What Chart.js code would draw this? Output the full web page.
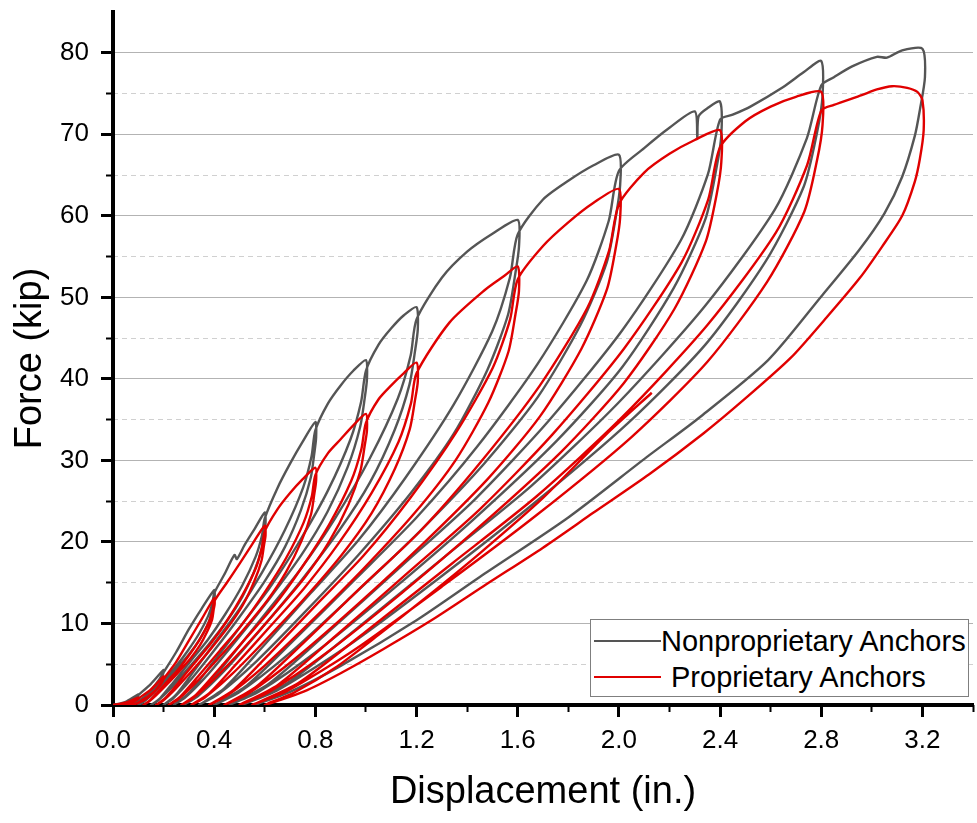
<!DOCTYPE html>
<html>
<head>
<meta charset="utf-8">
<title>Force vs Displacement</title>
<script src="https://cdn.jsdelivr.net/npm/chart.js@4.4.1/dist/chart.umd.min.js"></script>
<style>
  html, body { margin: 0; padding: 0; background: #fff; }
  #wrap { position: relative; width: 977px; height: 823px; }
  #legend {
    position: absolute; left: 590px; top: 619px; width: 377px; height: 76px;
    border: 1px solid #7f7f7f; background: #fff;
    font-family: 'Liberation Sans', Arial, sans-serif; font-size: 29px; color: #000;
  }
  .row { position: absolute; left: 0; right: 0; height: 36px; line-height: 36px; white-space: nowrap; }
  .swatch { position: absolute; left: 3px; top: 17px; width: 67px; height: 2px; }
  .label { position: absolute; top: 0; }
</style>
</head>
<body>
<div id="wrap">
  <canvas id="loopChart"></canvas>
  <div id="legend"></div>
</div>
<script>
// series names / colours
const seriesNames = ['Nonproprietary Anchors', 'Proprietary Anchors'];
const seriesColors = ['#555555', '#e00000'];

// axis ranges
const dispRange = [0, 3.4];
const forceRange = [0, 85];

const nonpropPath = [
  [0,0],[0.05,0.4],[0.1,1.3],
  [0.098,1.0],[0.08,0.55],[0.06,0.22],[0.04,0.05],[0.03,0],
  [0.05,0.1],[0.08,0.6],[0.1,1.2],[0.15,2.6],[0.2,4.3],
  [0.2,4.0],[0.19,3.2],[0.17,2.3],[0.14,1.4],[0.11,0.7],[0.08,0.2],[0.06,0],
  [0.09,0.3],[0.12,0.9],[0.15,1.8],[0.18,3.0],[0.2,4.0],
  [0.25,6.5],[0.3,9.3],[0.35,11.8],[0.4,14.1],
  [0.402,13.3],[0.398,12.5],[0.391,11.35],[0.372,9.7],[0.34,7.9],[0.30,6.2],[0.25,4.4],[0.201,2.75],[0.154,1.27],[0.118,0.31],[0.10,0],
  [0.124,0.49],[0.16,1.69],[0.205,3.24],[0.25,4.8],[0.295,6.63],[0.34,8.74],[0.376,10.9],[0.3925,12.4],[0.40,13.7],
  [0.44,16.0],[0.48,18.4],[0.49,17.9],[0.52,19.6],[0.56,21.6],[0.6,23.6],
  [0.603,22.3],[0.597,21.0],[0.587,19.0],[0.557,16.3],[0.51,13.2],[0.45,10.3],[0.375,7.3],[0.30,4.6],[0.231,2.12],[0.177,0.52],[0.15,0],
  [0.186,0.83],[0.24,2.83],[0.308,5.43],[0.375,8.0],[0.443,11.1],[0.51,14.6],[0.564,18.2],[0.589,20.8],[0.60,22.9],
  [0.65,26.6],[0.7,29.6],[0.75,32.3],[0.8,34.7],
  [0.803,32.8],[0.796,30.9],[0.782,27.9],[0.743,23.9],[0.68,19.4],[0.60,15.2],[0.50,10.8],[0.402,6.77],[0.308,3.12],[0.236,0.76],[0.20,0],
  [0.248,1.21],[0.32,4.16],[0.41,7.98],[0.50,11.8],[0.59,16.3],[0.68,21.5],[0.752,26.7],[0.785,30.5],[0.80,33.7],
  [0.85,37.0],[0.9,39.2],[0.95,41.0],[1.0,42.3],
  [1.004,40.0],[0.995,37.6],[0.977,34.1],[0.928,29.2],[0.848,23.7],[0.747,18.5],[0.62,13.1],[0.496,8.25],[0.377,3.81],[0.286,0.93],[0.24,0],
  [0.301,1.48],[0.392,5.08],[0.506,9.73],[0.62,14.4],[0.734,19.9],[0.848,26.2],[0.939,32.6],[0.981,37.2],[1.0,41.0],
  [1.05,44.2],[1.1,46.2],[1.15,47.8],[1.2,48.8],
  [1.205,46.1],[1.194,43.4],[1.172,39.3],[1.113,33.7],[1.016,27.3],[0.894,21.4],[0.74,15.1],[0.59,9.52],[0.446,4.39],[0.335,1.07],[0.28,0],
  [0.354,1.71],[0.464,5.86],[0.602,11.2],[0.74,16.6],[0.878,22.9],[1.016,30.3],[1.126,37.6],[1.177,42.9],[1.2,47.3],
  [1.3,52.4],[1.4,55.6],[1.5,57.8],[1.6,59.5],
  [1.605,56.2],[1.591,53.0],[1.562,47.9],[1.48,41.1],[1.348,33.3],[1.18,26.1],[0.97,18.4],[0.765,11.6],[0.567,5.36],[0.416,1.31],[0.34,0],
  [0.441,2.08],[0.592,7.14],[0.781,13.7],[0.97,20.2],[1.159,28.0],[1.348,36.9],[1.499,45.8],[1.569,52.4],[1.6,57.7],
  [1.7,62.0],[1.8,64.3],[1.9,66.2],[2.0,67.5],
  [2.005,63.8],[1.989,60.1],[1.952,54.3],[1.848,46.6],[1.68,37.8],[1.467,29.6],[1.20,20.9],[0.939,13.2],[0.688,6.08],[0.496,1.49],[0.40,0],
  [0.528,2.36],[0.72,8.1],[0.96,15.5],[1.20,23.0],[1.44,31.7],[1.68,41.9],[1.872,52.0],[1.96,59.4],[2.0,65.5],
  [2.1,68.3],[2.2,70.8],[2.3,72.8],[2.31,69.6],[2.315,72.2],[2.35,73.2],[2.4,74.0],
  [2.405,69.9],[2.386,65.9],[2.342,59.6],[2.216,51.1],[2.012,41.4],[1.754,32.4],[1.43,22.9],[1.114,14.4],[0.809,6.66],[0.576,1.63],[0.46,0],
  [0.615,2.59],[0.848,8.88],[1.139,17.0],[1.43,25.2],[1.721,34.8],[2.012,45.9],[2.245,57.0],[2.352,65.1],[2.4,71.8],
  [2.45,72.4],[2.52,73.4],[2.65,75.8],[2.73,77.6],[2.8,79.0],
  [2.805,74.7],[2.784,70.3],[2.731,63.6],[2.582,54.5],[2.342,44.2],[2.037,34.6],[1.655,24.5],[1.282,15.4],[0.922,7.11],[0.647,1.74],[0.51,0],
  [0.693,2.77],[0.968,9.48],[1.312,18.2],[1.655,26.9],[1.999,37.1],[2.342,49.0],[2.617,60.8],[2.743,69.5],[2.8,76.0],
  [2.85,77.0],[2.92,78.3],[3.02,79.5],[3.06,79.4],[3.12,80.3],[3.2,80.5],
  [3.21,77.0],[3.19,73.0],[3.17,69.8],[3.12,64.8],[3.05,60.3],[2.95,55.8],[2.80,50.1],[2.59,42.3],[2.32,35.3],[2.11,30.4],[1.80,23.0],[1.45,15.7],[1.20,10.4],[0.90,4.8],[0.70,1.6],[0.56,0]
];

const propPath = [
  [0,0],[0.05,0.3],[0.1,0.9],
  [0.098,0.7],[0.08,0.38],[0.06,0.15],[0.04,0.03],[0.03,0],
  [0.05,0.08],[0.08,0.4],[0.1,0.8],[0.15,1.9],[0.2,3.5],
  [0.2,3.2],[0.19,2.6],[0.17,1.85],[0.14,1.1],[0.11,0.5],[0.09,0.15],[0.07,0],
  [0.10,0.25],[0.13,0.75],[0.16,1.5],[0.185,2.5],[0.2,3.2],
  [0.25,5.3],[0.3,7.9],[0.35,10.5],[0.4,13.1],
  [0.402,12.4],[0.398,11.7],[0.392,10.5],[0.373,9.04],[0.344,7.34],[0.307,5.74],[0.26,4.06],[0.214,2.55],[0.17,1.18],[0.137,0.29],[0.12,0],
  [0.142,0.46],[0.176,1.57],[0.218,3.01],[0.26,4.45],[0.302,6.16],[0.344,8.12],[0.378,10.1],[0.393,11.5],[0.40,12.7],
  [0.45,15.0],[0.5,17.3],[0.55,19.7],[0.6,22.0],
  [0.603,20.8],[0.597,19.6],[0.587,17.7],[0.559,15.2],[0.514,12.3],[0.457,9.64],[0.385,6.82],[0.315,4.29],[0.247,1.98],[0.196,0.48],[0.17,0],
  [0.204,0.77],[0.256,2.64],[0.32,5.06],[0.385,7.48],[0.45,10.3],[0.514,13.6],[0.566,16.9],[0.589,19.4],[0.6,21.3],
  [0.65,24.0],[0.7,26.0],[0.75,27.7],[0.8,29.1],
  [0.803,27.5],[0.796,25.9],[0.783,23.4],[0.745,20.1],[0.684,16.3],[0.607,12.7],[0.51,9.02],[0.415,5.67],[0.324,2.62],[0.255,0.64],[0.22,0],
  [0.266,1.02],[0.336,3.49],[0.423,6.69],[0.51,9.89],[0.597,13.7],[0.684,18.0],[0.754,22.4],[0.786,25.6],[0.8,28.2],
  [0.85,30.9],[0.9,32.6],[0.95,34.3],[1.0,35.7],
  [1.004,33.7],[0.995,31.8],[0.978,28.7],[0.931,24.6],[0.854,20.0],[0.757,15.6],[0.635,11.1],[0.516,6.96],[0.401,3.21],[0.314,0.79],[0.27,0],
  [0.328,1.25],[0.416,4.28],[0.526,8.21],[0.635,12.1],[0.745,16.8],[0.854,22.1],[0.942,27.5],[0.982,31.4],[1.0,34.6],
  [1.05,37.5],[1.1,39.2],[1.15,40.7],[1.2,42.0],
  [1.205,39.7],[1.194,37.4],[1.173,33.8],[1.115,29.0],[1.022,23.5],[0.904,18.4],[0.755,13.0],[0.61,8.19],[0.47,3.78],[0.363,0.92],[0.31,0],
  [0.381,1.47],[0.488,5.04],[0.622,9.66],[0.755,14.3],[0.889,19.7],[1.022,26.0],[1.129,32.3],[1.178,37.0],[1.2,40.7],
  [1.33,46.9],[1.47,50.9],[1.55,52.7],[1.6,53.8],
  [1.605,50.8],[1.591,47.9],[1.563,43.3],[1.484,37.1],[1.356,30.1],[1.194,23.6],[0.99,16.7],[0.791,10.5],[0.60,4.84],[0.453,1.18],[0.38,0],
  [0.478,1.88],[0.624,6.46],[0.807,12.4],[0.99,18.3],[1.173,25.3],[1.356,33.4],[1.502,41.4],[1.57,47.3],[1.6,52.2],
  [1.7,56.3],[1.8,59.2],[1.9,61.6],[2.0,63.3],
  [2.005,59.8],[1.989,56.3],[1.953,51.0],[1.852,43.7],[1.688,35.4],[1.481,27.7],[1.22,19.6],[0.966,12.3],[0.721,5.7],[0.534,1.39],[0.44,0],
  [0.565,2.22],[0.752,7.6],[0.986,14.6],[1.22,21.5],[1.454,29.8],[1.688,39.2],[1.875,48.7],[1.961,55.7],[2.0,61.4],
  [2.1,65.3],[2.2,67.6],[2.3,69.3],[2.4,70.5],
  [2.405,66.6],[2.387,62.7],[2.343,56.8],[2.22,48.6],[2.02,39.5],[1.767,30.9],[1.45,21.9],[1.14,13.7],[0.842,6.35],[0.614,1.55],[0.50,0],
  [0.652,2.47],[0.88,8.46],[1.165,16.2],[1.45,24.0],[1.735,33.1],[2.02,43.7],[2.248,54.3],[2.353,62.0],[2.4,68.4],
  [2.5,71.6],[2.6,73.4],[2.7,74.6],[2.8,75.2],
  [2.805,71.1],[2.784,66.9],[2.733,60.5],[2.586,51.9],[2.35,42.1],[2.051,32.9],[1.675,23.3],[1.308,14.7],[0.955,6.77],[0.685,1.65],[0.55,0],
  [0.73,2.63],[1.0,9.02],[1.338,17.3],[1.675,25.6],[2.013,35.3],[2.35,46.6],[2.62,57.9],[2.744,66.2],[2.8,72.9],
  [2.85,73.6],[2.96,74.8],[3.02,75.5],[3.08,75.9],[3.14,75.7],[3.18,75.2],[3.2,74.2],
  [3.205,70.5],[3.19,67.0],[3.17,64.2],[3.12,60.0],[3.04,56.2],[2.953,52.4],[2.82,47.5],[2.68,42.6],[2.50,37.6],[2.334,33.3],[2.12,28.3],[1.90,23.6],[1.70,19.3],[1.476,14.8],[1.27,10.6],[1.068,6.84],[0.90,3.9],[0.756,1.67],[0.60,0],
  [0.72,1.6],[0.88,4.6],[1.05,8.6],[1.25,13.5],[1.45,18.6],[1.70,25.4],[1.95,33.2],[2.13,38.3]
];

const family = "'Liberation Sans', Arial, sans-serif";
Chart.defaults.font.family = family;
Chart.defaults.color = '#000';

const toXY = path => path.map(([x, y]) => ({x: x, y: y}));

// fixed axis boxes so the plot area lands where the original has it
const fixWidth = w => s => { s.width = w; s.paddingTop = 0; s.paddingBottom = 0; };
const fixHeight = h => s => { s.height = h; s.paddingLeft = 0; s.paddingRight = 0; };

const ctx = document.getElementById('loopChart').getContext('2d');
const loopChart = new Chart(ctx, {
  type: 'scatter',
  data: {
    datasets: [
      {
        label: seriesNames[0],
        data: toXY(nonpropPath),
        showLine: true,
        borderColor: seriesColors[0],
        backgroundColor: seriesColors[0],
        borderWidth: 2.4,
        pointRadius: 0,
        tension: 0.25,
        order: 1
      },
      {
        label: seriesNames[1],
        data: toXY(propPath),
        showLine: true,
        borderColor: seriesColors[1],
        backgroundColor: seriesColors[1],
        borderWidth: 2.4,
        pointRadius: 0,
        tension: 0.25,
        order: 0
      }
    ]
  },
  options: {
    responsive: true,
    maintainAspectRatio: false,
    animation: false,
    events: [],
    layout: { padding: { left: 0, right: 4, top: 12, bottom: 0 } },
    plugins: { legend: { display: false }, tooltip: { enabled: false } },
    scales: {
      x: {
        type: 'linear', position: 'bottom', weight: 1,
        min: dispRange[0], max: dispRange[1],
        ticks: { stepSize: 0.4, includeBounds: false, padding: 8, maxRotation: 0, autoSkip: false,
                 font: { size: 26 }, color: '#000', callback: v => v.toFixed(1) },
        grid: { drawOnChartArea: false, tickLength: 12, tickWidth: 3, tickColor: '#000' },
        border: { color: '#000', width: 4 },
        title: { display: true, text: 'Displacement (in.)', color: '#000',
                 font: { size: 38 }, padding: { top: 0, bottom: 8 } },
        afterFit: fixHeight(118)
      },
      // minor ticks every 0.2 in.
      x2: {
        type: 'linear', position: 'bottom', weight: 0,
        min: dispRange[0], max: dispRange[1],
        ticks: { display: false, stepSize: 0.2 },
        grid: { drawOnChartArea: false, tickLength: 7, tickWidth: 2, tickColor: '#000' },
        border: { display: false },
        afterFit: fixHeight(0)
      },
      y: {
        type: 'linear', position: 'left', weight: 1,
        min: forceRange[0], max: forceRange[1],
        ticks: { stepSize: 10, includeBounds: false, padding: 12,
                 font: { size: 26 }, color: '#000' },
        grid: { color: '#b3b3b3', lineWidth: 1, tickLength: 12, tickWidth: 3, tickColor: '#000' },
        border: { color: '#000', width: 4 },
        title: { display: true, text: 'Force (kip)', color: '#000',
                 font: { size: 38 }, padding: { top: 8, bottom: 0 } },
        afterFit: fixWidth(113)
      },
      // dashed minor grid every 5 kip
      y2: {
        type: 'linear', position: 'left', weight: 0,
        min: forceRange[0], max: forceRange[1],
        ticks: { display: false, stepSize: 5 },
        grid: {
          lineWidth: 1, tickLength: 7, tickWidth: 2,
          color: c => (c.tick && (c.tick.value % 10 === 0 || c.tick.value >= forceRange[1])) ? 'rgba(0,0,0,0)' : '#d0d0d0',
          tickColor: c => (c.tick && c.tick.value >= forceRange[1]) ? 'rgba(0,0,0,0)' : '#000'
        },
        border: { display: false, dash: [5, 4] },
        afterFit: fixWidth(0)
      }
    }
  }
});

// legend box inside the plot (bottom right)
const legendEl = document.getElementById('legend');
const textLeft = [70, 80];
seriesNames.forEach((name, i) => {
  const row = document.createElement('div');
  row.className = 'row';
  row.style.top = (3 + i * 36) + 'px';
  row.innerHTML = '<span class="swatch" style="background:' + seriesColors[i] + '"></span>' +
                  '<span class="label" style="left:' + textLeft[i] + 'px">' + name + '</span>';
  legendEl.appendChild(row);
});
</script>
</body>
</html>
